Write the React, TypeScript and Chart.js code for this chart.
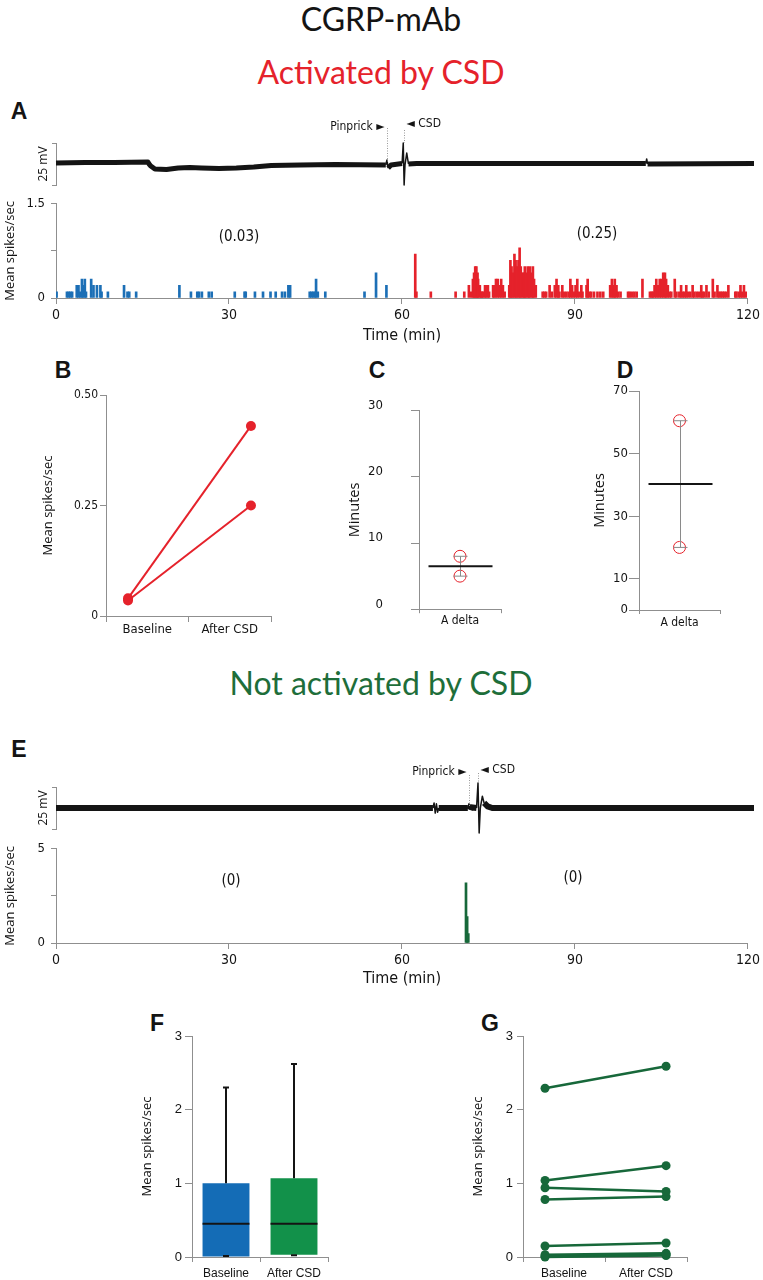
import React, { useEffect, useRef } from 'react';
import { Chart, registerables } from 'chart.js';

Chart.register(...registerables);

// ---------------- data ----------------
const timeTicks = [0, 30, 60, 90, 120];
const eventLabels = ['Pinprick', 'CSD'];

// Panel A: membrane trace (mV relative to scale-bar centre)
const traceATimes = [0, 5, 10, 15.8, 16.0, 16.3, 17, 19, 21, 23, 25, 28, 31, 34, 37, 42, 48, 56.7, 56.9, 57.1, 57.6, 59.5, 59.7, 59.85, 60.0, 60.3, 60.6, 62, 101.4, 101.55, 101.7, 120];
const traceAmV = [0.6, 0.9, 0.9, 1.2, 0, -1.2, -3.0, -3.3, -2.4, -2.1, -2.4, -2.7, -2.4, -1.8, -0.9, -0.6, -0.3, -0.6, 2.4, -2.4, -0.6, 0.3, 12.5, -12.5, -0.6, 6.5, 0, 0.3, 0.3, 3, 0, 0.3];
const eventTimesA = [56.9, 59.75];

// Panel A: histogram (min, spikes/sec)
const histAYTicks = [0, 0.75, 1.5];
const histAYLabels = ['0', '', '1.5'];
const baselineBinTimes = [
  0.1, 1.9, 2.2, 2.5, 2.8, 3.6, 3.9, 4.2, 4.5, 4.7,
  5.0, 5.2, 6.1, 6.5, 7.1, 7.7, 7.9, 9.0, 11.8, 12.4,
  12.7, 13.9, 21.4, 23.4, 24.5, 24.8, 25.3, 26.5, 27.0, 31.0,
  32.7, 32.9, 34.5, 35.9, 37.2, 38.1, 39.2, 39.7, 40.3, 40.6,
  44.0, 44.3, 44.6, 44.9, 45.1, 45.4, 46.7, 53.5, 55.5, 57.3,
];
const baselineBinRates = [
  0.1, 0.1, 0.1, 0.1, 0.1, 0.2, 0.2, 0.1, 0.3, 0.2,
  0.3, 0.1, 0.3, 0.2, 0.2, 0.2, 0.1, 0.1, 0.2, 0.1,
  0.1, 0.1, 0.2, 0.1, 0.1, 0.1, 0.1, 0.1, 0.1, 0.1,
  0.1, 0.1, 0.1, 0.1, 0.1, 0.1, 0.1, 0.1, 0.2, 0.2,
  0.1, 0.1, 0.1, 0.1, 0.3, 0.1, 0.1, 0.1, 0.4, 0.2,
];
const afterBinTimes = [
  62.3, 62.5, 65.0, 69.3, 70.8, 71.6, 72.0, 72.3, 72.5, 72.7,
  72.9, 73.1, 73.2, 73.5, 73.7, 73.9, 74.1, 74.4, 74.6, 74.9,
  75.1, 75.8, 76.0, 76.3, 76.6, 76.9, 77.2, 77.5, 77.8, 78.6,
  78.8, 79.0, 79.2, 79.5, 79.7, 79.9, 80.2, 80.4, 80.6, 80.9,
  81.1, 81.3, 81.5, 81.8, 82.0, 82.2, 82.5, 82.7, 82.9, 83.2,
  84.4, 84.7, 85.0, 85.6, 86.0, 86.5, 86.8, 87.1, 87.3, 87.8,
  88.1, 88.5, 88.9, 89.2, 89.5, 89.8, 90.1, 90.4, 90.7, 91.1,
  91.3, 92.0, 92.2, 92.5, 92.8, 93.3, 93.9, 94.4, 94.9, 96.1,
  96.4, 96.7, 96.9, 97.2, 97.5, 97.9, 99.2, 99.5, 99.9, 100.3,
  100.7, 101.7, 103.0, 103.3, 103.5, 103.8, 104.1, 104.4, 104.7, 105.0,
  105.3, 105.6, 105.8, 106.1, 106.4, 106.7, 107.3, 107.6, 108.1, 108.4,
  108.7, 109.0, 109.3, 109.6, 110.0, 110.4, 110.7, 111.1, 111.5, 111.9,
  112.1, 112.4, 112.8, 113.2, 113.9, 114.2, 114.7, 115.0, 115.3, 115.6,
  115.9, 116.2, 116.6, 117.8, 118.0, 118.4, 118.7, 119.0, 119.3, 119.6,
];
const afterBinRates = [
  0.7, 0.1, 0.1, 0.1, 0.1, 0.2, 0.1, 0.3, 0.4, 0.5,
  0.5, 0.4, 0.3, 0.2, 0.1, 0.1, 0.1, 0.2, 0.2, 0.2,
  0.1, 0.2, 0.2, 0.3, 0.3, 0.2, 0.3, 0.2, 0.1, 0.2,
  0.6, 0.5, 0.4, 0.7, 0.6, 0.5, 0.6, 0.8, 0.5, 0.4,
  0.4, 0.5, 0.4, 0.5, 0.4, 0.5, 0.4, 0.5, 0.3, 0.2,
  0.1, 0.1, 0.1, 0.2, 0.1, 0.2, 0.3, 0.2, 0.1, 0.2,
  0.1, 0.1, 0.1, 0.3, 0.2, 0.1, 0.2, 0.3, 0.1, 0.2,
  0.1, 0.2, 0.3, 0.1, 0.1, 0.1, 0.1, 0.1, 0.1, 0.2,
  0.3, 0.2, 0.3, 0.2, 0.1, 0.1, 0.1, 0.1, 0.1, 0.1,
  0.1, 0.3, 0.1, 0.1, 0.1, 0.2, 0.3, 0.2, 0.3, 0.3,
  0.4, 0.4, 0.3, 0.2, 0.1, 0.1, 0.3, 0.1, 0.1, 0.2,
  0.1, 0.1, 0.2, 0.1, 0.1, 0.2, 0.1, 0.1, 0.1, 0.2,
  0.1, 0.1, 0.2, 0.1, 0.3, 0.1, 0.2, 0.1, 0.1, 0.1,
  0.1, 0.1, 0.2, 0.1, 0.1, 0.1, 0.2, 0.1, 0.2, 0.1,
];
const histAMeans = ['(0.03)', '(0.25)'];

// Panel B
const pairCategories = ['Baseline', 'After CSD'];
const bBaseline = [0.04, 0.035];
const bAfter = [0.43, 0.25];
const bYTicks = [0, 0.25, 0.5];
const bYLabels = ['0', '0.25', '0.50'];

// Panels C, D
const groupCategories = ['A delta'];
const cMinutes = [8.0, 5.0];
const cYTicks = [0, 10, 20, 30];
const dMinutes = [60.5, 20.0];
const dYTicks = [0, 10, 30, 50, 70];

// Panel E
const traceETimes = [0, 64.8, 65.0, 65.2, 65.4, 65.6, 65.8, 70.8, 71.0, 71.1, 71.3, 72.3, 72.55, 72.75, 72.95, 73.3, 73.6, 74.2, 75, 120];
const traceEmV = [0, 0, 3, -3, 2.5, -2.5, 0, 0, 2.5, -1, 0.5, 0, 14.9, -14.9, 0, 7, 3, 1, 0, 0];
const eventTimesE = [71.0, 72.5];
const histEYTicks = [0, 2.5, 5];
const histEYLabels = ['0', '', '5'];
const eBinTimes = [71.1, 71.3, 71.5];
const eBinRates = [3.2, 1.4, 0.5];
const histEMeans = ['(0)', '(0)'];

// Panel F (box plot)
const fMin = [0, 0.01];
const fQ1 = [0, 0.03];
const fMedian = [0.45, 0.45];
const fQ3 = [1.0, 1.07];
const fMax = [2.3, 2.62];

// Panel G
const gBaseline = [2.29, 1.04, 0.94, 0.78, 0.15, 0.03, 0.01, 0.0];
const gAfter = [2.59, 1.24, 0.89, 0.82, 0.19, 0.05, 0.03, 0.02];
const fgYTicks = [0, 1, 2, 3];

// ---------------- style ----------------
const NARROW = '"Liberation Sans Narrow", "DejaVu Sans Condensed", "Liberation Sans", sans-serif';
const SANS = '"Open Sans", "DejaVu Sans", sans-serif';
const ARIAL = '"Liberation Sans", Arial, sans-serif';
const TITLE = 'Lato, "Open Sans", sans-serif';
const INK = '#141414';
const AXIS = '#8f8f8f';
const RED = '#e5222b';
const BLUE = '#1c6fb6';
const DARK_GREEN = '#17683a';
const BOX_BLUE = '#146cb6';
const BOX_GREEN = '#12914a';

const baseOptions = (padding: any) => ({
  responsive: false,
  animation: false,
  events: [],
  layout: { padding },
  plugins: { legend: { display: false }, tooltip: { enabled: false } },
});

const axisLines = (tickLength: number, offset = false) => ({
  grid: { display: true, drawOnChartArea: false, drawTicks: true, tickLength, color: AXIS, lineWidth: 1, offset },
  border: { display: true, color: AXIS, width: 1 },
});

const yTitle = (text: string, size = 13, family = SANS) => ({
  display: true,
  text,
  font: { family, size, lineHeight: 1.2 },
  color: INK,
  padding: 0,
});

const setTicks = (vals: number[]) => (s: any) => {
  s.ticks = vals.map((v) => ({ value: v }));
};

// ---------------- plugins ----------------
const makeEventPlugin = (times: number[], cfg: { lineFrom: number[]; lineTo: number[]; textDy: number[] }) => ({
  id: 'eventMarks',
  afterDatasetsDraw(chart: any) {
    const { ctx, chartArea, scales } = chart;
    ctx.save();
    times.forEach((t, i) => {
      const x = Math.round(scales.x.getPixelForValue(t)) + 0.5;
      ctx.strokeStyle = '#9a9a9a';
      ctx.lineWidth = 1;
      ctx.setLineDash([1, 1.5]);
      ctx.beginPath();
      ctx.moveTo(x, chartArea.top + cfg.lineFrom[i]);
      ctx.lineTo(x, chartArea.top + cfg.lineTo[i]);
      ctx.stroke();
      ctx.setLineDash([]);
      ctx.fillStyle = INK;
      ctx.font = `12px ${NARROW}`;
      ctx.textBaseline = 'middle';
      const ty = chartArea.top + cfg.textDy[i];
      if (i === 0) {
        ctx.textAlign = 'right';
        ctx.fillText(`${eventLabels[i]} \u25BA`, x - 3, ty);
      } else {
        ctx.textAlign = 'left';
        ctx.fillText(`\u25C4 ${eventLabels[i]}`, x + 2, ty);
      }
    });
    ctx.restore();
  },
});

const makeMeanRangePlugin = (values: number[]) => ({
  id: 'meanRange',
  afterDatasetsDraw(chart: any) {
    const { ctx, scales } = chart;
    const mean = values.reduce((a, b) => a + b, 0) / values.length;
    const lo = Math.min(...values);
    const hi = Math.max(...values);
    const x = Math.round(scales.x.getPixelForValue(0)) + 0.5;
    const yLo = scales.y.getPixelForValue(lo);
    const yHi = scales.y.getPixelForValue(hi);
    const yM = scales.y.getPixelForValue(mean);
    ctx.save();
    ctx.strokeStyle = '#8a8a8a';
    ctx.lineWidth = 1;
    ctx.beginPath();
    ctx.moveTo(x, yLo);
    ctx.lineTo(x, yHi);
    ctx.moveTo(x - 7, yLo);
    ctx.lineTo(x + 7, yLo);
    ctx.moveTo(x - 7, yHi);
    ctx.lineTo(x + 7, yHi);
    ctx.stroke();
    ctx.strokeStyle = INK;
    ctx.lineWidth = 2;
    ctx.beginPath();
    ctx.moveTo(x - 32, yM);
    ctx.lineTo(x + 32, yM);
    ctx.stroke();
    ctx.restore();
  },
});

const boxPlugin = {
  id: 'boxWhiskers',
  afterDatasetsDraw(chart: any) {
    const { ctx, scales } = chart;
    const meta = chart.getDatasetMeta(0);
    ctx.save();
    ctx.strokeStyle = INK;
    ctx.lineWidth = 2;
    meta.data.forEach((bar: any, i: number) => {
      const x = Math.round(bar.x);
      const half = bar.width / 2;
      const y = (v: number) => scales.y.getPixelForValue(v);
      ctx.beginPath();
      ctx.moveTo(x - half, y(fMedian[i]));
      ctx.lineTo(x + half, y(fMedian[i]));
      ctx.moveTo(x, y(fQ3[i]));
      ctx.lineTo(x, y(fMax[i]));
      ctx.moveTo(x - 3, y(fMax[i]));
      ctx.lineTo(x + 3, y(fMax[i]));
      ctx.moveTo(x, y(fQ1[i]));
      ctx.lineTo(x, y(fMin[i]));
      ctx.moveTo(x - 3, y(fMin[i]) - 1);
      ctx.lineTo(x + 3, y(fMin[i]) - 1);
      ctx.stroke();
    });
    ctx.restore();
  },
};

// ---------------- chart builders ----------------
const traceConfig = (times: number[], mv: number[], events: number[], width: number, cfg: any, padTop: number, padBottom: number) => ({
  type: 'line',
  data: {
    datasets: [
      {
        data: times.map((t, i) => ({ x: t, y: mv[i] })),
        borderColor: INK,
        borderWidth: width,
        borderJoinStyle: 'round',
        borderCapStyle: 'butt',
        pointRadius: 0,
        tension: 0,
        clip: false,
        segment: {
          borderWidth: (c: any) => (Math.abs(c.p1.parsed.y - c.p0.parsed.y) > 2 ? 1.5 : width),
        },
      },
    ],
  },
  options: {
    ...baseOptions({ left: 36, right: 9, top: padTop, bottom: padBottom }),
    scales: {
      x: { type: 'linear', min: 0, max: 120, display: false },
      y: {
        type: 'linear',
        min: -12.5,
        max: 12.5,
        ...axisLines(4),
        afterBuildTicks: setTicks([-12.5, 12.5]),
        ticks: { display: false },
        afterFit: (s: any) => {
          s.width = 20;
        },
        title: yTitle('25 mV', 12),
      },
    },
  },
  plugins: [makeEventPlugin(events, cfg)],
});

const histConfig = (sets: { times: number[]; rates: number[]; color: string }[], yMax: number, yTicks: number[], yLabels: string[], xHeight: number, padBottom: number) => ({
  type: 'bar',
  data: {
    datasets: sets.map((s) => ({
      data: s.times.map((t, i) => ({ x: t, y: s.rates[i] })),
      backgroundColor: s.color,
      barThickness: 2,
      grouped: false,
      borderWidth: 0,
    })),
  },
  options: {
    ...baseOptions({ left: 2, right: 9, top: 13, bottom: padBottom }),
    scales: {
      x: {
        type: 'linear',
        min: 0,
        max: 120,
        offset: false,
        ...axisLines(6),
        afterBuildTicks: setTicks(timeTicks),
        ticks: { font: { family: NARROW, size: 14 }, color: INK, padding: 3, maxRotation: 0 },
        title: { display: true, text: 'Time (min)', font: { family: NARROW, size: 16, lineHeight: 1.2 }, color: INK, padding: 0 },
        afterFit: (s: any) => {
          s.height = xHeight;
        },
      },
      y: {
        type: 'linear',
        min: 0,
        max: yMax,
        ...axisLines(5),
        afterBuildTicks: setTicks(yTicks),
        ticks: { font: { family: NARROW, size: 13 }, color: INK, padding: 6, callback: (_v: any, i: number) => yLabels[i] },
        afterFit: (s: any) => {
          s.width = 54;
        },
        title: yTitle('Mean spikes/sec', 13),
      },
    },
  },
});

const pairConfig = (
  base: number[],
  after: number[],
  color: string,
  lineW: number,
  radius: number,
  yScale: any,
  xRange: [number, number],
  pad: any,
  yWidth: number,
  x2Height: number,
  x2Pad: number,
  labelFont: any,
  xTick: number
) => ({
  type: 'line',
  data: {
    datasets: base.map((b, i) => ({
      data: [
        { x: 0, y: b },
        { x: 1, y: after[i] },
      ],
      borderColor: color,
      borderWidth: lineW,
      pointRadius: radius,
      pointBackgroundColor: color,
      pointBorderColor: color,
      pointBorderWidth: 0,
      tension: 0,
      clip: false,
    })),
  },
  options: {
    ...baseOptions(pad),
    scales: {
      x: {
        type: 'linear',
        min: xRange[0],
        max: xRange[1],
        ...axisLines(xTick),
        afterBuildTicks: (s: any) => {
          s.ticks = [s.min, (s.min + s.max) / 2, s.max].map((v) => ({ value: v }));
        },
        ticks: { display: false },
        afterFit: (s: any) => {
          s.height = xTick;
        },
      },
      x2: {
        type: 'category',
        labels: pairCategories,
        position: 'bottom',
        offset: true,
        grid: { display: false, drawTicks: false, tickLength: 0 },
        border: { display: false },
        ticks: { font: labelFont, color: INK, padding: x2Pad, maxRotation: 0 },
        afterFit: (s: any) => {
          s.height = x2Height;
        },
      },
      y: {
        ...yScale,
        afterFit: (s: any) => {
          s.width = yWidth;
        },
        title: yTitle('Mean spikes/sec', 13),
      },
    },
  },
});

const groupConfig = (values: number[], yMax: number, yTicks: number[], tickLen: number, tickPad: number, labelOffset: number, pad: any, yWidth: number, xHeight: number, xPad: number) => ({
  type: 'line',
  data: {
    labels: groupCategories,
    datasets: values.map((v) => ({
      data: [v],
      showLine: false,
      pointRadius: 6,
      pointBorderColor: RED,
      pointBackgroundColor: 'rgba(0,0,0,0)',
      pointBorderWidth: 1,
      clip: false,
    })),
  },
  options: {
    ...baseOptions(pad),
    scales: {
      x: {
        type: 'category',
        offset: true,
        ...axisLines(4, true),
        ticks: { font: { family: NARROW, size: 12 }, color: INK, padding: xPad, maxRotation: 0 },
        afterFit: (s: any) => {
          s.height = xHeight;
        },
      },
      y: {
        type: 'linear',
        min: 0,
        max: yMax,
        ...axisLines(tickLen),
        afterBuildTicks: setTicks(yTicks),
        ticks: { font: { family: NARROW, size: 13 }, color: INK, padding: tickPad, labelOffset },
        afterFit: (s: any) => {
          s.width = yWidth;
        },
        title: yTitle('Minutes', 14.5),
      },
    },
  },
  plugins: [makeMeanRangePlugin(values)],
});

const fgYScale = (tickLen: number, pad: number) => ({
  type: 'linear',
  min: 0,
  max: 3,
  ...axisLines(tickLen),
  afterBuildTicks: setTicks(fgYTicks),
  ticks: { font: { family: ARIAL, size: 13 }, color: INK, padding: pad },
});

const makeTraceA = () =>
  traceConfig(traceATimes, traceAmV, eventTimesA, 5, { lineFrom: [-15, -13], lineTo: [20, 0], textDy: [-16, -19] }, 33, 10);
const makeHistA = () =>
  histConfig(
    [
      { times: baselineBinTimes, rates: baselineBinRates, color: BLUE },
      { times: afterBinTimes, rates: afterBinRates, color: RED },
    ],
    1.5,
    histAYTicks,
    histAYLabels,
    47,
    0
  );
const makeB = () =>
  pairConfig(
    bBaseline,
    bAfter,
    RED,
    2,
    5,
    {
      type: 'linear',
      min: 0,
      max: 0.5,
      ...axisLines(6),
      afterBuildTicks: setTicks(bYTicks),
      ticks: { font: { family: NARROW, size: 12 }, color: INK, padding: 2, callback: (_v: any, i: number) => bYLabels[i] },
    },
    [-0.179, 1.163],
    { left: 10, right: 19, top: 15, bottom: 3 },
    66,
    20,
    0,
    { family: NARROW, size: 13 },
    6
  );
const makeC = () => groupConfig(cMinutes, 30, cYTicks, 8, 28, -5, { left: 16, right: 19, top: 19, bottom: 0 }, 73, 29, 0);
const makeD = () => groupConfig(dMinutes, 70, dYTicks, 10, 1, 0, { left: 11, right: 30, top: 21, bottom: 0 }, 48, 30, 2);
const makeTraceE = () =>
  traceConfig(traceETimes, traceEmV, eventTimesE, 6, { lineFrom: [-12, -14], lineTo: [20, -4], textDy: [-15, -17] }, 32, 11);
const makeHistE = () =>
  histConfig([{ times: eBinTimes, rates: eBinRates, color: DARK_GREEN }], 5, histEYTicks, histEYLabels, 45, 2);
const makeF = () => ({
  type: 'bar',
  data: {
    labels: pairCategories,
    datasets: [
      {
        data: fQ1.map((q, i) => [q, fQ3[i]]),
        backgroundColor: [BOX_BLUE, BOX_GREEN],
        barPercentage: 0.69,
        categoryPercentage: 1,
        borderWidth: 0,
        borderSkipped: false,
      },
    ],
  },
  options: {
    ...baseOptions({ left: 9, right: 22, top: 16, bottom: 0 }),
    scales: {
      x: {
        type: 'category',
        offset: true,
        ...axisLines(5, true),
        ticks: { font: { family: ARIAL, size: 12 }, color: INK, padding: 4, maxRotation: 0 },
        afterFit: (s: any) => {
          s.height = 23;
        },
      },
      y: {
        ...fgYScale(7, 3),
        afterFit: (s: any) => {
          s.width = 53;
        },
        title: yTitle('Mean spikes/sec', 13),
      },
    },
  },
  plugins: [boxPlugin],
});
const makeG = () =>
  pairConfig(
    gBaseline,
    gAfter,
    DARK_GREEN,
    2.5,
    4.5,
    fgYScale(6, 4),
    [-0.182, 1.173],
    { left: 10, right: 33, top: 16, bottom: 0 },
    53,
    18,
    4,
    { family: ARIAL, size: 12 },
    5
  );

// ---------------- components ----------------
function ChartCanvas({ x, y, w, h, make }: { x: number; y: number; w: number; h: number; make: () => any }) {
  const ref = useRef<HTMLCanvasElement | null>(null);
  useEffect(() => {
    if (!ref.current) return;
    const chart = new Chart(ref.current, make());
    return () => chart.destroy();
  }, []);
  return (
    <div style={{ position: 'absolute', left: x, top: y, width: w, height: h }}>
      <canvas ref={ref} width={w} height={h} style={{ width: w, height: h, display: 'block' }} />
    </div>
  );
}

function Txt({ cx, cy, style, children }: { cx: number; cy: number; style?: React.CSSProperties; children: React.ReactNode }) {
  return (
    <div
      style={{
        position: 'absolute',
        left: cx,
        top: cy,
        transform: 'translate(-50%, -50%)',
        whiteSpace: 'nowrap',
        lineHeight: 1,
        color: INK,
        ...style,
      }}
    >
      {children}
    </div>
  );
}

const headStyle: React.CSSProperties = { fontFamily: TITLE, fontSize: 32 };
const letterStyle: React.CSSProperties = { fontFamily: ARIAL, fontSize: 23, fontWeight: 700 };
const noteStyle: React.CSSProperties = { fontFamily: NARROW, fontSize: 15 };

export default function App() {
  return (
    <div style={{ position: 'absolute', left: 0, top: 0, width: 763, height: 1280, background: '#fff', overflow: 'hidden' }}>
      <Txt cx={381} cy={19} style={headStyle}>CGRP-mAb</Txt>
      <Txt cx={381} cy={72} style={{ ...headStyle, color: RED }}>Activated by CSD</Txt>
      <Txt cx={381} cy={683} style={{ ...headStyle, color: '#1e6e3a' }}>Not activated by CSD</Txt>

      <Txt cx={19} cy={111} style={letterStyle}>A</Txt>
      <Txt cx={63} cy={370} style={letterStyle}>B</Txt>
      <Txt cx={377} cy={370} style={letterStyle}>C</Txt>
      <Txt cx={625} cy={370} style={letterStyle}>D</Txt>
      <Txt cx={19} cy={749} style={letterStyle}>E</Txt>
      <Txt cx={157} cy={1023} style={letterStyle}>F</Txt>
      <Txt cx={490} cy={1023} style={letterStyle}>G</Txt>

      <ChartCanvas x={0} y={110} w={763} h={85} make={makeTraceA} />
      <ChartCanvas x={0} y={190} w={763} h={155} make={makeHistA} />
      <Txt cx={239} cy={236} style={noteStyle}>{histAMeans[0]}</Txt>
      <Txt cx={597} cy={233} style={noteStyle}>{histAMeans[1]}</Txt>

      <ChartCanvas x={30} y={380} w={260} h={265} make={makeB} />
      <ChartCanvas x={330} y={375} w={190} h={270} make={makeC} />
      <ChartCanvas x={580} y={370} w={170} h={270} make={makeD} />

      <ChartCanvas x={0} y={755} w={763} h={85} make={makeTraceE} />
      <ChartCanvas x={0} y={835} w={763} h={155} make={makeHistE} />
      <Txt cx={231} cy={880} style={noteStyle}>{histEMeans[0]}</Txt>
      <Txt cx={573} cy={877} style={noteStyle}>{histEMeans[1]}</Txt>

      <ChartCanvas x={130} y={1020} w={220} h={260} make={makeF} />
      <ChartCanvas x={460} y={1020} w={260} h={260} make={makeG} />
    </div>
  );
}
